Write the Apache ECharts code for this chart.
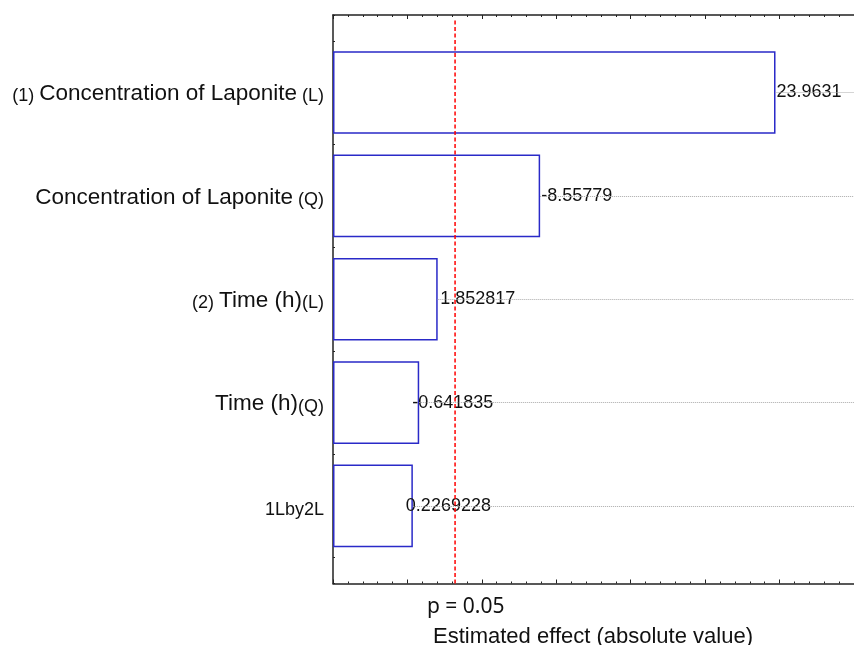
<!DOCTYPE html>
<html><head><meta charset="utf-8">
<script src="https://cdn.jsdelivr.net/npm/echarts@6/dist/echarts.min.js"></script>
<style>html,body{margin:0;padding:0;background:#fff}#c{width:854px;height:645px}</style>
</head><body><div id="c"></div>
<script>
// ---- data ----
const factorPrefix = ['(1) ', '', '(2) ', '', ''];
const factorName = ['Concentration of Laponite', 'Concentration of Laponite', 'Time (h)', 'Time (h)', '1Lby2L'];
const factorSuffix = [' (L)', ' (Q)', '(L)', '(Q)', ''];
const effectValues = [23.9631, -8.55779, 1.852817, -0.641835, 0.2269228];
const pCritical = 3.2;
const pLabel = 'p = 0.05';
const xAxisTitle = 'Estimated effect (absolute value)';
const tickMin = -5, tickMax = 30, tickStep = 5;
const barMin = -5, barMax = 29.1;
const rowMin = 0.25, rowMax = 5.75;

// ---- styles ----
const labelOffsets = [0, 0, 1.5, -8, -8];
const frameColor = '#222';
const categories = factorName.map((n, i) => factorPrefix[i] + n + factorSuffix[i]);

const chart = echarts.init(document.getElementById('c'), null, {renderer: 'canvas'});

const tickAxis = (pos) => ({
  gridIndex: 0, type: 'value', position: pos, min: tickMin, max: tickMax, interval: tickStep,
  axisLine: {show: true, onZero: false, lineStyle: {color: frameColor, width: 1.5}},
  axisTick: {show: true, inside: true, length: 4, lineStyle: {color: frameColor, width: 1}},
  minorTick: {show: true, splitNumber: 5, length: 2, lineStyle: {color: frameColor, width: 1}},
  axisLabel: {show: false}, splitLine: {show: false}
});

const option = {
  animation: false,
  backgroundColor: '#fff',
  grid: [
    {left: 333, top: 15, width: 523, height: 568.5},
    {left: 333, top: 40.84, width: 523, height: 516.8}
  ],
  xAxis: [
    tickAxis('bottom'),
    tickAxis('top'),
    {gridIndex: 1, type: 'value', min: barMin, max: barMax, startValue: barMin, show: false}
  ],
  yAxis: [
    {gridIndex: 0, type: 'value', min: rowMin, max: rowMax, interval: 0.25,
     axisLine: {show: true, onZero: false, lineStyle: {color: frameColor, width: 1.5}},
     axisTick: {show: true, inside: true, length: 2, lineStyle: {color: frameColor}},
     axisLabel: {show: false}, splitLine: {show: false}},
    {gridIndex: 0, type: 'value', min: rowMin, max: rowMax, position: 'left',
     axisLine: {show: false, onZero: false},
     axisTick: {show: true, inside: true, length: 5, customValues: categories.map((c, i) => i + 1), lineStyle: {color: frameColor, width: 1.5}},
     axisLabel: {show: false}, splitLine: {show: false}},
    {gridIndex: 1, type: 'category', data: categories, inverse: true,
     axisLine: {show: false, onZero: false}, axisTick: {show: false}, splitLine: {show: false},
     axisLabel: {
       margin: 9, color: '#111', fontFamily: 'Liberation Sans', fontSize: 18,
       formatter: (v, i) => {
         const main = factorSuffix[i] ? 'b' : 's';
         return (factorPrefix[i] ? '{s|' + factorPrefix[i] + '}' : '') +
                '{' + main + '|' + factorName[i] + '}' +
                (factorSuffix[i] ? '{s|' + factorSuffix[i] + '}' : '');
       },
       rich: {
         s: {fontSize: 18, fontFamily: 'Liberation Sans', color: '#111', lineHeight: 26, verticalAlign: 'bottom'},
         b: {fontSize: 22.5, fontFamily: 'Liberation Sans', color: '#111', lineHeight: 26, verticalAlign: 'bottom'}
       }
     }}
  ],
  series: [
    {
      type: 'bar', xAxisIndex: 2, yAxisIndex: 2,
      barWidth: '80%',
      data: effectValues.map((v, i) => ({value: Math.abs(v), label: {offset: [labelOffsets[i], 0]}})),
      itemStyle: {color: '#fff', borderColor: '#2a2ac8', borderWidth: 1.5},
      label: {
        show: true, position: 'right', distance: 1,
        fontFamily: 'Liberation Sans', fontSize: 18, color: '#111',
        formatter: (p) => String(effectValues[p.dataIndex])
      },
      markLine: {
        silent: true, symbol: 'none', label: {show: false},
        lineStyle: {type: 'dotted', color: '#aaa', width: 1},
        data: effectValues.map((v, i) => [{coord: [Math.abs(v), i]}, {coord: [barMax, i]}])
      },
      z: 3
    },
    {
      type: 'line', xAxisIndex: 0, yAxisIndex: 0,
      data: [[pCritical, rowMin], [pCritical, rowMax - 0.04]],
      symbol: 'none',
      lineStyle: {color: '#ff0000', width: 1.5, type: [4, 2.5]},
      z: 4
    }
  ],
  graphic: [
    {type: 'text', left: 427, top: 597,
     style: {text: pLabel, fontFamily: 'Noto Sans', fontSize: 21, fill: '#111'}},
    {type: 'text', left: 433, top: 626,
     style: {text: xAxisTitle, fontFamily: 'Liberation Sans', fontSize: 22, fill: '#111'}}
  ]
};
chart.setOption(option);
</script></body></html>
